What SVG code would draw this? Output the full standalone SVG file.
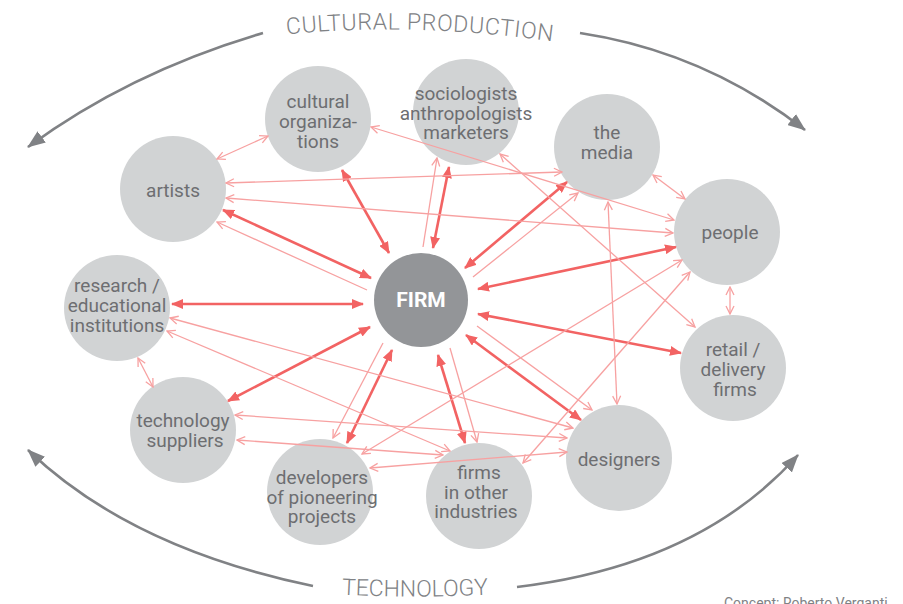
<svg xmlns="http://www.w3.org/2000/svg" width="903" height="604" viewBox="0 0 903 604">
<style>
.node{fill:#d1d3d4}
.lbl{font-family:Roboto,"Liberation Sans",sans-serif;font-size:19px;fill:#6d6e71;text-anchor:middle}
.firm{fill:#939598}
.firmt{font-family:Roboto,"Liberation Sans",sans-serif;font-size:21px;font-weight:bold;fill:#ffffff;text-anchor:middle}
.thick{stroke:#f26363;stroke-width:2.6;fill:none;marker-end:url(#ah);marker-start:url(#ah)}
.thin{stroke:#f7a1a1;stroke-width:1.3;fill:none;marker-end:url(#ot);marker-start:url(#ot)}
.one{stroke:#f7a1a1;stroke-width:1.3;fill:none;marker-end:url(#ot)}
.arc{stroke:#808285;stroke-width:2.6;fill:none;marker-end:url(#gh)}
.big{font-family:Roboto,"Liberation Sans",sans-serif;font-size:23px;font-weight:300;fill:#808285}
</style>
<defs>
<marker id="ah" viewBox="0 0 12 10" refX="11" refY="5" markerWidth="12" markerHeight="10" markerUnits="userSpaceOnUse" orient="auto-start-reverse"><path d="M0,0 L12,5 L0,10 z" fill="#f26363"/></marker>
<marker id="ot" viewBox="0 0 10 10" refX="9" refY="5" markerWidth="10" markerHeight="10" markerUnits="userSpaceOnUse" orient="auto-start-reverse"><path d="M1,1 L9,5 L1,9" fill="none" stroke="#f7a1a1" stroke-width="1.3"/></marker>
<marker id="gh" viewBox="0 0 18 14" refX="17" refY="7" markerWidth="18" markerHeight="14" markerUnits="userSpaceOnUse" orient="auto"><path d="M0,0 L18,7 L0,14 z" fill="#808285"/></marker>
<path id="topArc" d="M275,36 Q405,20 565,43"/>
<path id="botArc" d="M330,594 Q415,599 500,594"/>
</defs>

<g id="cycle">
<path class="arc" d="M263,33 Q130,72 28,147"/>
<path class="arc" d="M580,33 Q705,52 805,130"/>
<path class="arc" d="M313,586 Q130,548 28,450"/>
<path class="arc" d="M517,587 Q700,565 798,455"/>
<text class="big" letter-spacing="0.6"><textPath href="#topArc" startOffset="50%" text-anchor="middle">CULTURAL PRODUCTION</textPath></text>
<text class="big"><textPath href="#botArc" startOffset="50%" text-anchor="middle">TECHNOLOGY</textPath></text>
</g>

<g id="nodes">
<g id="n-cultural"><circle class="node" cx="318" cy="119" r="53"/><text class="lbl" x="318" y="108">cultural</text><text class="lbl" x="318" y="128">organiza-</text><text class="lbl" x="318" y="148">tions</text></g>
<g id="n-sociologists"><circle class="node" cx="466" cy="112" r="53"/><text class="lbl" x="466" y="100">sociologists</text><text class="lbl" x="466" y="120">anthropologists</text><text class="lbl" x="466" y="139">marketers</text></g>
<g id="n-media"><circle class="node" cx="607" cy="147" r="53"/><text class="lbl" x="607" y="139">the</text><text class="lbl" x="607" y="159">media</text></g>
<g id="n-artists"><circle class="node" cx="173" cy="189" r="53"/><text class="lbl" x="173" y="197">artists</text></g>
<g id="n-people"><circle class="node" cx="727" cy="232" r="53"/><text class="lbl" x="730" y="239">people</text></g>
<g id="n-research"><circle class="node" cx="117" cy="308" r="53"/><text class="lbl" x="117" y="292">research /</text><text class="lbl" x="117" y="312">educational</text><text class="lbl" x="117" y="332">institutions</text></g>
<g id="n-retail"><circle class="node" cx="733" cy="368" r="53"/><text class="lbl" x="733" y="356">retail /</text><text class="lbl" x="733" y="376">delivery</text><text class="lbl" x="735" y="396">firms</text></g>
<g id="n-tech"><circle class="node" cx="183" cy="430" r="53"/><text class="lbl" x="183" y="427">technology</text><text class="lbl" x="185" y="447">suppliers</text></g>
<g id="n-developers"><circle class="node" cx="320" cy="492" r="53"/><text class="lbl" x="322" y="484">developers</text><text class="lbl" x="322" y="504">of pioneering</text><text class="lbl" x="322" y="523">projects</text></g>
<g id="n-firms-other"><circle class="node" cx="479" cy="496" r="53"/><text class="lbl" x="479" y="479">firms</text><text class="lbl" x="476" y="499">in other</text><text class="lbl" x="476" y="518">industries</text></g>
<g id="n-designers"><circle class="node" cx="619" cy="458" r="53"/><text class="lbl" x="619" y="466">designers</text></g>
<g id="n-firm"><circle class="firm" cx="421" cy="300" r="47"/><text class="firmt" x="421" y="307">FIRM</text></g>
</g>

<g id="connectors">
<line class="thick" x1="342" y1="170" x2="389" y2="253"/>
<line class="thick" x1="449" y1="167" x2="433" y2="248"/>
<line class="thick" x1="567" y1="182" x2="465" y2="268"/>
<line class="thick" x1="676" y1="247" x2="478" y2="289"/>
<line class="thick" x1="478" y1="314" x2="681" y2="353"/>
<line class="thick" x1="466" y1="335" x2="581" y2="420"/>
<line class="thick" x1="438" y1="355" x2="465" y2="443"/>
<line class="thick" x1="392" y1="350" x2="347" y2="443"/>
<line class="thick" x1="370" y1="327" x2="228" y2="401"/>
<line class="thick" x1="172" y1="304" x2="363" y2="304"/>
<line class="thick" x1="223" y1="210" x2="371" y2="278"/>

<line class="one" x1="367" y1="290" x2="217" y2="222"/>
<line class="one" x1="423" y1="247" x2="437" y2="158"/>
<line class="one" x1="473" y1="277" x2="578" y2="193"/>
<line class="one" x1="477" y1="326" x2="592" y2="410"/>
<line class="one" x1="450" y1="348" x2="477" y2="442"/>
<line class="one" x1="383" y1="343" x2="333" y2="438"/>

<line class="thin" x1="217" y1="159" x2="268" y2="136"/>
<line class="thin" x1="371" y1="127" x2="674" y2="220"/>
<line class="thin" x1="226" y1="183" x2="562" y2="172"/>
<line class="thin" x1="226" y1="198" x2="673" y2="233"/>
<line class="thin" x1="500" y1="154" x2="695" y2="327"/>
<line class="thin" x1="653" y1="175" x2="685" y2="199"/>
<line class="thin" x1="608" y1="202" x2="617" y2="404"/>
<line class="thin" x1="730" y1="287" x2="730" y2="314"/>
<line class="thin" x1="682" y1="260" x2="362" y2="454"/>
<line class="thin" x1="690" y1="272" x2="523" y2="463"/>
<line class="thin" x1="170" y1="318" x2="573" y2="428"/>
<line class="thin" x1="167" y1="331" x2="450" y2="451"/>
<line class="thin" x1="138" y1="358" x2="153" y2="387"/>
<line class="thin" x1="235" y1="415" x2="567" y2="438"/>
<line class="thin" x1="237" y1="440" x2="443" y2="455"/>
<line class="thin" x1="370" y1="468" x2="567" y2="452"/>
</g>

<text id="credit" x="724" y="608" font-family="Roboto, 'Liberation Sans', sans-serif" font-size="14" fill="#808285">Concept: Roberto Verganti</text>
</svg>
